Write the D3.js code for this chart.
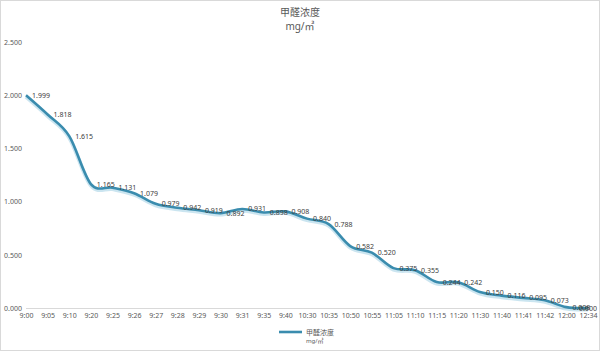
<!DOCTYPE html>
<html>
<script src="https://d3js.org/d3.v7.min.js"></script>
<style>
    body { margin: 0; background: #fff; }
    text { font-family: "Noto Sans", "Noto Sans CJK SC", sans-serif; }
    .tick text { font-size: 7px; fill: #595959; }
</style>
<body></body>
<script>
    const times = ["9:00", "9:05", "9:10", "9:20", "9:25", "9:26", "9:27", "9:28", "9:29", "9:30",
        "9:31", "9:35", "9:40", "10:30", "10:35", "10:50", "10:55", "11:05", "11:10", "11:15",
        "11:20", "11:30", "11:40", "11:41", "11:42", "12:00", "12:34"];
    const values = [1.999, 1.818, 1.615, 1.165, 1.131, 1.079, 0.979, 0.942, 0.919, 0.892,
        0.931, 0.898, 0.908, 0.840, 0.788, 0.582, 0.520, 0.375, 0.355, 0.244,
        0.242, 0.150, 0.116, 0.095, 0.073, 0.008, 0.000];
    const yTicks = [0, 0.5, 1, 1.5, 2, 2.5];
    const seriesName = "甲醛浓度";
    const unit = "mg/㎥";

    const width = 600, height = 351;
    const svg = d3.select("body").append("svg").attr("width", width).attr("height", height);

    svg.append("rect")
        .attr("x", 0.5).attr("y", 0.5)
        .attr("width", width - 1).attr("height", height - 1)
        .attr("fill", "#fff").attr("stroke", "#d9d9d9");

    const x = d3.scalePoint().domain(times).range([26, 588]);
    const y = d3.scaleLinear().domain([0, 2.5]).range([308, 42]);

    // title
    svg.append("text").attr("x", 300).attr("y", 16).attr("text-anchor", "middle")
        .attr("font-size", 10).attr("fill", "#595959").text(seriesName);
    svg.append("text").attr("x", 300).attr("y", 30).attr("text-anchor", "middle")
        .attr("font-size", 10).attr("fill", "#595959").text(unit);

    // axes
    const yAxis = svg.append("g")
        .attr("transform", "translate(24,0)")
        .call(d3.axisLeft(y).tickValues(yTicks).tickFormat(d3.format(".3f")).tickSize(0).tickPadding(2));
    yAxis.select(".domain").remove();
    yAxis.selectAll("text").attr("text-anchor", "end");

    const xAxis = svg.append("g")
        .attr("transform", `translate(0,${y(0)})`)
        .call(d3.axisBottom(x).tickSize(0).tickPadding(5));
    xAxis.select(".domain").attr("stroke", "#d9d9d9").attr("d", `M${x(times[0])},0.5H${x(times[times.length - 1])}`);

    const pts = times.map((t, i) => [x(t), y(values[i])]);
    const line = d3.line().curve(d3.curveCatmullRom.alpha(0));

    // soft shadow
    svg.append("path").attr("d", line(pts.map(p => [p[0], p[1] + 1.5])))
        .attr("fill", "none").attr("stroke", "#a9d3e6").attr("stroke-width", 4).attr("opacity", 0.6);
    svg.append("path").attr("d", line(pts))
        .attr("fill", "none").attr("stroke", "#3a8cae").attr("stroke-width", 2.6)
        .attr("stroke-linejoin", "round");

    // data labels, kept inside the chart on the right
    svg.append("g").selectAll("text")
        .data(times)
        .join("text")
        .attr("x", d => x(d) + 6)
        .attr("y", (d, i) => y(values[i]) + 2.5)
        .attr("font-size", 7)
        .attr("fill", "#404040")
        .text((d, i) => d3.format(".3f")(values[i]))
        .each(function () {
            const w = this.getComputedTextLength();
            const x0 = +this.getAttribute("x");
            if (x0 + w > width - 3) this.setAttribute("x", width - 3 - w);
        });

    // legend
    const lg = svg.append("g");
    lg.append("line").attr("x1", 279).attr("x2", 302).attr("y1", 332).attr("y2", 332)
        .attr("stroke", "#3a8cae").attr("stroke-width", 2.6);
    lg.append("text").attr("x", 306).attr("y", 334.5).attr("font-size", 7).attr("fill", "#595959").text(seriesName);
    lg.append("text").attr("x", 306).attr("y", 343).attr("font-size", 6).attr("fill", "#595959").text(unit);
</script>
</html>
